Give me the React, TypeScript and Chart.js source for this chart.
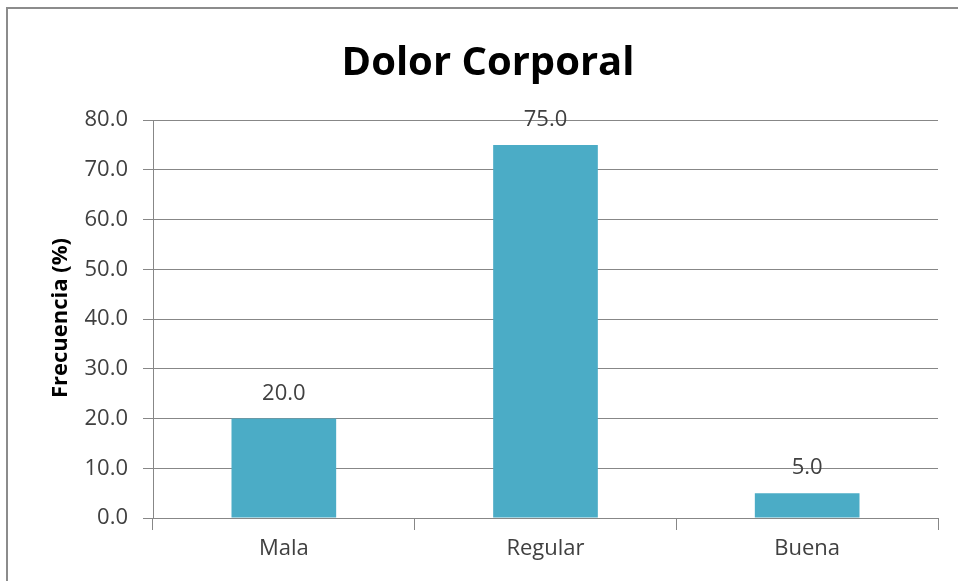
import React, { useEffect, useRef } from "react";
import { Chart, registerables } from "chart.js";

Chart.register(...registerables);

const categories = ["Mala", "Regular", "Buena"];
const values = [20.0, 75.0, 5.0];
const chartTitle = "Dolor Corporal";
const yAxisTitle = "Frecuencia (%)";
const yMin = 0;
const yMax = 80;
const yStep = 10;

const FONT = "'Open Sans', sans-serif";

const decorPlugin = {
  id: "decor",
  afterDraw(chart: any) {
    const ctx = chart.ctx;
    ctx.save();
    // frame
    ctx.strokeStyle = "#8c8c8c";
    ctx.lineWidth = 2;
    ctx.beginPath();
    ctx.moveTo(7, 581);
    ctx.lineTo(7, 8);
    ctx.lineTo(958, 8);
    ctx.stroke();
    // title
    ctx.fillStyle = "#000000";
    ctx.font = `bold 40px ${FONT}`;
    ctx.textAlign = "center";
    ctx.textBaseline = "alphabetic";
    ctx.fillText(chartTitle, 488, 75);
    // y axis title
    ctx.save();
    ctx.translate(67, 318);
    ctx.rotate(-Math.PI / 2);
    ctx.font = `bold 22px ${FONT}`;
    ctx.fillStyle = "#000000";
    ctx.textAlign = "center";
    ctx.textBaseline = "alphabetic";
    ctx.fillText(yAxisTitle, 0, 0);
    ctx.restore();
    // data labels
    const meta = chart.getDatasetMeta(0);
    ctx.font = `22px ${FONT}`;
    ctx.fillStyle = "#404040";
    ctx.textAlign = "center";
    ctx.textBaseline = "alphabetic";
    meta.data.forEach((bar: any, i: number) => {
      ctx.fillText(values[i].toFixed(1), bar.x, bar.y - 19);
    });
    ctx.restore();
  },
};

export default function App() {
  const ref = useRef<HTMLCanvasElement>(null);
  useEffect(() => {
    document.body.style.margin = "0";
    const chart = new Chart(ref.current!, {
      type: "bar",
      data: {
        labels: categories,
        datasets: [
          {
            data: values,
            backgroundColor: "#4BACC6",
            borderWidth: 0,
            categoryPercentage: 1,
            barPercentage: 0.4,
          },
        ],
      },
      options: {
        animation: false,
        responsive: false,
        layout: { padding: { top: 120, right: 20, left: 0, bottom: 0 } },
        plugins: {
          legend: { display: false },
          title: { display: false },
          tooltip: { enabled: false },
        },
        scales: {
          x: {
            grid: {
              display: true,
              drawOnChartArea: false,
              drawTicks: true,
              tickLength: 12,
              color: "#878787",
              offset: true,
            },
            border: { display: true, color: "#878787", width: 1 },
            ticks: {
              color: "#404040",
              font: { family: FONT, size: 22 },
              padding: 6,
            },
            afterFit(scale: any) {
              scale.height = 63;
            },
          },
          y: {
            min: yMin,
            max: yMax,
            ticks: {
              stepSize: yStep,
              color: "#404040",
              font: { family: FONT, size: 22 },
              padding: 15,
              callback: (v: any) => Number(v).toFixed(1),
            },
            grid: {
              color: "#878787",
              tickLength: 10,
              lineWidth: 1,
            },
            border: { display: true, color: "#878787", width: 1 },
            afterFit(scale: any) {
              scale.width = 153;
            },
          },
        },
      },
      plugins: [decorPlugin],
    });
    return () => chart.destroy();
  }, []);
  return (
    <div style={{ width: 958, height: 581, background: "#ffffff" }}>
      <canvas ref={ref} width={958} height={581} />
    </div>
  );
}
